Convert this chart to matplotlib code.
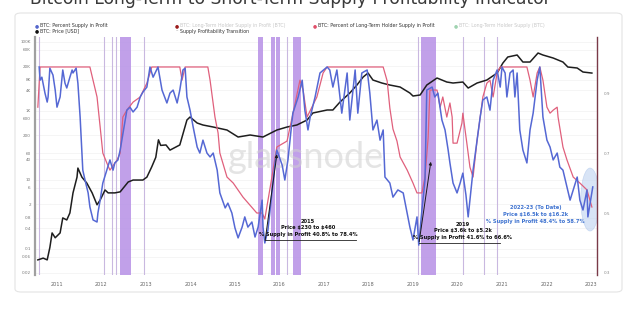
import matplotlib
matplotlib.use("Agg")
import matplotlib.pyplot as plt
from matplotlib.patches import FancyBboxPatch, Ellipse
import numpy as np

plt.rcParams['text.parse_math'] = False

# ---------------- data ----------------
price_years = [2010.57, 2010.69, 2010.78, 2010.84, 2010.89, 2010.96, 2011.07, 2011.13, 2011.22, 2011.29,
               2011.36, 2011.45, 2011.47, 2011.56, 2011.67, 2011.79, 2011.90, 2011.97, 2012.08, 2012.15,
               2012.30, 2012.42, 2012.60, 2012.71, 2012.93, 2013.02, 2013.13, 2013.22, 2013.28, 2013.33,
               2013.45, 2013.54, 2013.76, 2013.92, 2013.99, 2014.15, 2014.28, 2014.51, 2014.82, 2015.07,
               2015.34, 2015.63, 2015.94, 2016.17, 2016.39, 2016.62, 2016.75, 2017.07, 2017.20, 2017.36,
               2017.58, 2017.74, 2017.88, 2017.99, 2018.10, 2018.30, 2018.48, 2018.71, 2018.93, 2019.00,
               2019.16, 2019.31, 2019.54, 2019.76, 2019.90, 2020.12, 2020.24, 2020.44, 2020.66, 2020.89,
               2021.02, 2021.13, 2021.34, 2021.47, 2021.63, 2021.81, 2021.92, 2022.15, 2022.37, 2022.48,
               2022.69, 2022.82, 2023.02]
price_usd = [0.048, 0.054, 0.048, 0.11, 0.29, 0.21, 0.29, 0.79, 0.69, 1.1,
             4.2, 12, 22, 12, 8.1, 4.2, 1.9, 2.6, 5.1, 4.2,
             4.2, 4.5, 8.7, 9.9, 9.9, 12, 24, 45, 145, 100,
             103, 73, 103, 544, 665, 445, 390, 341, 279, 175,
             200, 175, 279, 341, 390, 544, 869, 1062, 1062, 1811,
             3300, 5620, 9600, 12500, 7850, 6430, 5620, 4920, 3300, 2700,
             2890, 5620, 8980, 6870, 6430, 6870, 4600, 6430, 7850, 12500,
             24400, 36500, 41700, 26100, 26100, 47600, 41700, 34100, 26100, 18700,
             17500, 13400, 12500]

sip_years = [2010.60, 2010.62, 2010.66, 2010.73, 2010.78, 2010.80, 2010.84, 2010.91, 2010.96, 2011.00,
             2011.07, 2011.13, 2011.18, 2011.22, 2011.29, 2011.34, 2011.36, 2011.43, 2011.47, 2011.52,
             2011.58, 2011.63, 2011.70, 2011.74, 2011.81, 2011.90, 2011.92, 2011.97, 2012.03, 2012.12,
             2012.19, 2012.26, 2012.30, 2012.37, 2012.42, 2012.57, 2012.64, 2012.71, 2012.80, 2012.87,
             2012.93, 2013.02, 2013.09, 2013.16, 2013.27, 2013.36, 2013.47, 2013.54, 2013.61, 2013.70,
             2013.76, 2013.83, 2013.88, 2013.92, 2013.99, 2014.06, 2014.15, 2014.21, 2014.28, 2014.37,
             2014.44, 2014.51, 2014.60, 2014.66, 2014.78, 2014.84, 2014.93, 2015.00, 2015.07, 2015.16,
             2015.22, 2015.29, 2015.38, 2015.45, 2015.52, 2015.61, 2015.63, 2015.67, 2015.74, 2015.83,
             2015.90, 2015.94, 2016.06, 2016.12, 2016.19, 2016.30, 2016.42, 2016.51, 2016.57, 2016.64,
             2016.69, 2016.80, 2016.91, 2017.07, 2017.13, 2017.20, 2017.29, 2017.40, 2017.52, 2017.58,
             2017.70, 2017.76, 2017.85, 2017.97, 2018.03, 2018.10, 2018.19, 2018.26, 2018.33, 2018.37,
             2018.48, 2018.55, 2018.66, 2018.78, 2018.93, 2019.00, 2019.09, 2019.13, 2019.20, 2019.27,
             2019.31, 2019.43, 2019.49, 2019.56, 2019.65, 2019.72, 2019.79, 2019.83, 2019.90, 2019.99,
             2020.06, 2020.12, 2020.19, 2020.24, 2020.35, 2020.44, 2020.51, 2020.57, 2020.66, 2020.73,
             2020.80, 2020.89, 2020.96, 2021.00, 2021.07, 2021.11, 2021.18, 2021.25, 2021.29, 2021.34,
             2021.40, 2021.47, 2021.56, 2021.63, 2021.70, 2021.79, 2021.85, 2021.92, 2022.01, 2022.08,
             2022.15, 2022.24, 2022.30, 2022.37, 2022.46, 2022.53, 2022.60, 2022.69, 2022.75, 2022.82,
             2022.91, 2022.93, 2022.98, 2023.04]
sip = [0.987, 0.943, 0.953, 0.900, 0.870, 0.887, 0.983, 0.960, 0.910, 0.853,
       0.887, 0.977, 0.933, 0.917, 0.953, 0.977, 0.967, 0.983, 0.933, 0.820,
       0.643, 0.610, 0.567, 0.520, 0.477, 0.470, 0.500, 0.543, 0.600, 0.643,
       0.677, 0.643, 0.667, 0.677, 0.710, 0.843, 0.853, 0.837, 0.853, 0.887,
       0.903, 0.920, 0.987, 0.953, 0.987, 0.910, 0.867, 0.900, 0.910, 0.867,
       0.910, 0.977, 0.983, 0.887, 0.843, 0.787, 0.720, 0.700, 0.743, 0.700,
       0.687, 0.700, 0.643, 0.567, 0.517, 0.533, 0.500, 0.450, 0.417, 0.453,
       0.487, 0.453, 0.470, 0.420, 0.453, 0.543, 0.453, 0.400, 0.443, 0.567,
       0.667, 0.710, 0.660, 0.610, 0.677, 0.833, 0.887, 0.943, 0.843, 0.777,
       0.820, 0.887, 0.967, 0.987, 0.977, 0.920, 0.977, 0.833, 0.967, 0.810,
       0.977, 0.833, 0.967, 0.977, 0.900, 0.777, 0.810, 0.743, 0.777, 0.620,
       0.600, 0.553, 0.577, 0.567, 0.453, 0.410, 0.487, 0.393, 0.510, 0.610,
       0.910, 0.920, 0.887, 0.900, 0.810, 0.777, 0.710, 0.667, 0.600, 0.567,
       0.600, 0.633, 0.560, 0.487, 0.643, 0.743, 0.820, 0.877, 0.887, 0.843,
       0.943, 0.977, 0.920, 0.987, 0.967, 0.887, 0.967, 0.977, 0.887, 0.967,
       0.777, 0.710, 0.667, 0.777, 0.833, 0.943, 0.987, 0.820, 0.743, 0.720,
       0.677, 0.700, 0.653, 0.643, 0.587, 0.543, 0.577, 0.620, 0.543, 0.510,
       0.577, 0.487, 0.533, 0.587]

lth_years = [2010.57, 2010.62, 2011.74, 2011.81, 2011.90, 2011.97, 2012.03, 2012.12, 2012.19, 2012.35,
             2012.42, 2012.48, 2012.57, 2012.71, 2012.87, 2013.02, 2013.13, 2013.76, 2013.81, 2013.88,
             2014.39, 2014.44, 2014.55, 2014.62, 2014.66, 2014.82, 2014.96, 2015.18, 2015.49, 2015.61,
             2015.67, 2015.83, 2015.94, 2016.17, 2016.30, 2016.46, 2016.53, 2016.62, 2016.84, 2016.98,
             2017.07, 2018.33, 2018.42, 2018.48, 2018.55, 2018.64, 2018.71, 2018.87, 2019.00, 2019.09,
             2019.20, 2019.27, 2019.34, 2019.38, 2019.54, 2019.61, 2019.67, 2019.76, 2019.83, 2019.88,
             2019.90, 2019.99, 2020.10, 2020.12, 2020.21, 2020.28, 2020.35, 2020.44, 2020.51, 2020.57,
             2020.66, 2020.73, 2020.80, 2020.89, 2020.96, 2021.56, 2021.63, 2021.70, 2021.79, 2021.85,
             2021.92, 2022.01, 2022.08, 2022.15, 2022.24, 2022.26, 2022.37, 2022.46, 2022.60, 2022.75,
             2022.91, 2023.02]
lth_sip = [0.853, 0.987, 0.987, 0.943, 0.887, 0.787, 0.700, 0.667, 0.643, 0.677,
           0.700, 0.820, 0.843, 0.870, 0.887, 0.933, 0.987, 0.987, 0.943, 0.987,
           0.987, 0.943, 0.820, 0.767, 0.700, 0.620, 0.600, 0.553, 0.500, 0.500,
           0.480, 0.620, 0.720, 0.740, 0.830, 0.943, 0.910, 0.820, 0.887, 0.967,
           0.987, 0.987, 0.940, 0.850, 0.780, 0.740, 0.687, 0.643, 0.600, 0.567,
           0.567, 0.620, 0.750, 0.910, 0.910, 0.853, 0.887, 0.820, 0.867, 0.820,
           0.733, 0.733, 0.800, 0.833, 0.733, 0.653, 0.620, 0.743, 0.820, 0.887,
           0.933, 0.943, 0.887, 0.967, 0.987, 0.987, 0.943, 0.887, 0.967, 0.987,
           0.943, 0.853, 0.833, 0.843, 0.853, 0.820, 0.720, 0.677, 0.620, 0.600,
           0.577, 0.520]

transition_bands = [(2012.42, 2012.66), (2015.52, 2015.63), (2015.81, 2015.90), (2015.92, 2016.01),
                    (2016.30, 2016.48), (2019.19, 2019.52)]
transition_lines = [2010.60, 2012.06, 2012.24, 2012.33, 2012.96, 2016.17, 2019.11, 2020.12, 2020.60, 2020.89]

price_ticks = [0.02, 0.06, 0.1, 0.4, 0.8, 2, 6, 10, 40, 60, 200, 600, 1000, 4000, 8000, 20000, 60000, 100000]
price_tick_labels = ['0.02', '0.06', '0.1', '0.4', '0.8', '2', '6', '10', '40', '60', '200', '600',
                     '1K', '4K', '8K', '20K', '60K', '100K']
ratio_ticks = [0.3, 0.5, 0.7, 0.9]
year_ticks = list(range(2011, 2024))

# ---------------- figure ----------------
W, H = 640, 309
fig = plt.figure(figsize=(W / 100, H / 100), dpi=100, facecolor='white')

def fx(px):
    return px / W

def fy(py):
    return 1 - py / H

card = FancyBboxPatch((fx(15), fy(292)), fx(622) - fx(15), fy(13) - fy(292),
                      boxstyle="round,pad=0,rounding_size=0.01", transform=fig.transFigure,
                      facecolor='white', edgecolor='#e4e4e4', linewidth=0.8, zorder=-10)
fig.patches.append(card)

fig.text(fx(30), fy(3.5), "Bitcoin Long-Term to Short-Term Supply Profitability Indicator",
         fontsize=12.3, color='#3a3a3a', va='baseline', ha='left', family='DejaVu Sans')

# legend
leg_fs = 3.4
def leg(px, py, color, label, faded=False, dash=False):
    if dash:
        fig.text(fx(px), fy(py), "–", color='#999999', fontsize=leg_fs, va='center', ha='center')
    else:
        fig.text(fx(px), fy(py), "●", color=color, fontsize=leg_fs, va='center', ha='center')
    fig.text(fx(px + 3), fy(py), label, color='#c8c8c8' if faded else '#333333',
             fontsize=leg_fs, va='center', ha='left')

leg(37, 25.5, '#5566cc', "BTC: Percent Supply in Profit")
leg(37, 31, '#111111', "BTC: Price [USD]")
leg(177, 25.5, '#9b1c1c', "BTC: Long-Term Holder Supply in Profit (BTC)", faded=True)
leg(177, 31, '#999999', "Supply Profitability Transition", dash=True)
leg(315, 25.5, '#e0506a', "BTC: Percent of Long-Term Holder Supply in Profit")
leg(456, 25.5, '#9fd3b0', "BTC: Long-Term Holder Supply (BTC)", faded=True)

ax = fig.add_axes([fx(35), fy(275), fx(597) - fx(35), fy(37) - fy(275)])
ax.set_facecolor('none')
ax2 = ax.twinx()

x0, x1 = 2010.506, 2023.135
ax.set_xlim(x0, x1)
ax.set_yscale('log')
ax.set_ylim(0.0175, 138700)
ax2.set_ylim(0.2933, 1.087)

# grid
for t in price_ticks:
    ax.axhline(t, color='#f1f1f1', lw=0.5, zorder=0)

# transition bands
for a, b in transition_bands:
    ax.axvspan(a, b, color='#b690e6', alpha=0.85, lw=0, zorder=1)
for t in transition_lines:
    ax.axvline(t, color='#c9b8e0', lw=0.8, zorder=1)

# watermark
ax.text(2016.6, 45, "glassnode", fontsize=26, color='#cfcfcf', alpha=0.55,
        ha='center', va='center', family='Lato', zorder=2)

ax.plot(price_years, price_usd, color='#1e1e1e', lw=1.1, zorder=5)
ax2.plot(lth_years, lth_sip, color='#e0607c', lw=0.9, zorder=3)
ax2.plot(sip_years, sip, color='#5568d4', lw=1.1, zorder=4)

# highlight ellipse at end
ax2.add_patch(Ellipse((2022.98, 0.545), 0.42, 0.21, facecolor='#b9cff0', edgecolor='#a8c2ea',
                      alpha=0.55, lw=0.5, zorder=2))

# annotations
ann_fs = 3.7
def block(xc, ytop, lines, color):
    for i, s in enumerate(lines):
        ax2.text(xc, ytop - i * 0.022, s, fontsize=ann_fs, color=color, ha='center', va='center',
                 fontweight='bold', zorder=6, parse_math=False)

block(2016.64, 0.473, ["2015", "Price $230 to $460", "% Supply in Profit 40.8% to 78.4%"], '#111111')
ax2.plot([2015.67, 2017.72], [0.41, 0.41], color='#222222', lw=0.6, zorder=6)
ax2.annotate('', xy=(2015.95, 0.705), xytext=(2015.67, 0.40),
             arrowprops=dict(arrowstyle='-|>', color='#1a1a1a', lw=0.7, mutation_scale=4), zorder=6)

block(2020.12, 0.463, ["2019", "Price $3.6k to $5.2k", "% Supply in Profit 41.6% to 66.6%"], '#111111')
ax2.plot([2019.13, 2020.95], [0.40, 0.40], color='#222222', lw=0.6, zorder=6)
ax2.annotate('', xy=(2019.41, 0.68), xytext=(2019.13, 0.395),
             arrowprops=dict(arrowstyle='-|>', color='#1a1a1a', lw=0.7, mutation_scale=4), zorder=6)

block(2021.76, 0.517, ["2022-23 (To Date)", "Price $16.5k to $16.2k", "% Supply in Profit 48.4% to 58.7%"],
      '#3f73d0')

# axes styling
ax.set_xticks(year_ticks)
ax.set_xticklabels([str(y) for y in year_ticks])
ax.set_yticks(price_ticks)
ax.set_yticklabels(price_tick_labels)
ax.yaxis.set_minor_locator(matplotlib.ticker.NullLocator())
ax2.set_yticks(ratio_ticks)
ax2.set_yticklabels([f"{t:.1f}" for t in ratio_ticks])
ax.tick_params(axis='x', length=0, labelsize=3.6, colors='#666666', pad=5)
ax.tick_params(axis='y', length=0, labelsize=3.0, colors='#777777', pad=3)
ax2.tick_params(axis='y', length=0, labelsize=3.0, colors='#888888', pad=5)
for a in (ax, ax2):
    a.spines['top'].set_visible(False)
    a.spines['bottom'].set_visible(False)
ax.spines['right'].set_visible(False)
ax2.spines['left'].set_color('#a0a0a0')
ax2.spines['left'].set_linewidth(1.6)
ax2.spines['right'].set_color('#7a3a48')
ax2.spines['right'].set_linewidth(1.0)
ax.spines['left'].set_visible(False)

fig.savefig("out.png", dpi=100, facecolor='white')
